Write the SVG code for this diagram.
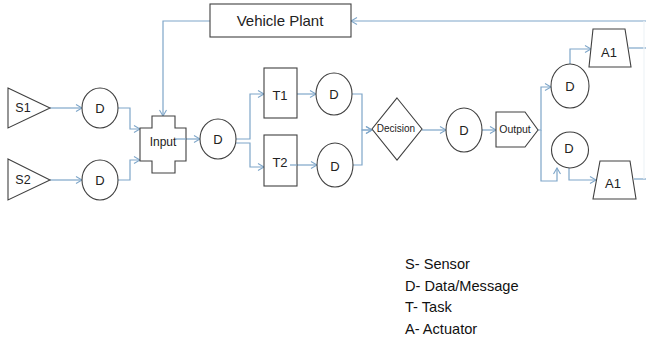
<svg xmlns="http://www.w3.org/2000/svg" width="646" height="342" viewBox="0 0 646 342">
<style>
.s{fill:#fff;stroke:#404040;stroke-width:1.1}
.c{fill:none;stroke:#7ea6c9;stroke-width:1.2}
.t{font-family:"Liberation Sans",Arial,sans-serif;fill:#222;text-anchor:middle;dominant-baseline:central}
.lg{font-family:"Liberation Sans",Arial,sans-serif;fill:#111;font-size:14.6px}
</style>
<defs>
<marker id="a" markerWidth="8" markerHeight="8" refX="7" refY="4" orient="auto" markerUnits="userSpaceOnUse">
<path d="M1,0.5 L7,4 L1,7.5" fill="none" stroke="#7ea6c9" stroke-width="1.1"/>
</marker>
</defs>
<rect width="646" height="342" fill="#fff"/>
<g id="connectors" class="c">
<path d="M50,108 H82" marker-end="url(#a)"/>
<path d="M50,180 H82" marker-end="url(#a)"/>
<path d="M118,108 H130 V129 H140" marker-end="url(#a)"/>
<path d="M118,180 H130 V160 H140" marker-end="url(#a)"/>
<path d="M210,21 H163 V116" marker-end="url(#a)"/>
<path d="M175,139 H200" marker-end="url(#a)"/>
<path d="M236,139 H250 V94 H264" marker-end="url(#a)"/>
<path d="M236,143 H250 V167 H264" marker-end="url(#a)"/>
<path d="M297,94 H316" marker-end="url(#a)"/>
<path d="M290,165 H317" marker-end="url(#a)"/>
<path d="M352,94 H362 V130 H372" marker-end="url(#a)"/>
<path d="M353,165 H362 V130 H372" marker-end="url(#a)"/>
<path d="M422,130 H446" marker-end="url(#a)"/>
<path d="M482,130 H496" marker-end="url(#a)"/>
<path d="M538,130 H541 V87 H551" marker-end="url(#a)"/>
<path d="M541,130 V181 H557 V168" marker-end="url(#a)"/>
<path d="M570,64 V49 H591" marker-end="url(#a)"/>
<path d="M569,168 V180 H596" marker-end="url(#a)"/>
<path d="M629,48 H646"/>
<path d="M634,179 H646"/>
<path d="M646,21 H351" marker-end="url(#a)"/>
<path d="M644,21 V179" stroke="#eef3f7"/>
</g>
<g id="vehicle-plant"><rect class="s" x="210" y="4" width="141" height="33"/><text class="t" x="280" y="20" font-size="15">Vehicle Plant</text></g>
<g id="s1"><path class="s" d="M8,88 L50,108 L8,128 Z"/><text class="t" x="23" y="108" font-size="12.5">S1</text></g>
<g id="s2"><path class="s" d="M8,159 L50,180 L8,200 Z"/><text class="t" x="23" y="180" font-size="12.5">S2</text></g>
<g id="d1"><ellipse class="s" cx="100" cy="108" rx="18" ry="20"/><text class="t" x="100" y="108" font-size="13">D</text></g>
<g id="d2"><ellipse class="s" cx="100" cy="180" rx="18" ry="20"/><text class="t" x="100" y="180" font-size="13">D</text></g>
<g id="input"><path class="s" d="M152,116 H175 V128 H186 V161 H175 V173 H152 V161 H140 V128 H152 Z"/><text class="t" x="163" y="142" font-size="12">Input</text></g>
<path d="M175,139 H186" class="c"/>
<g id="d3"><ellipse class="s" cx="218" cy="139" rx="18" ry="20"/><text class="t" x="218" y="139" font-size="13">D</text></g>
<g id="t1"><rect class="s" x="264" y="68" width="33" height="50"/><text class="t" x="280" y="95" font-size="13">T1</text></g>
<g id="t2"><rect class="s" x="264" y="135" width="33" height="51"/><text class="t" x="280" y="162" font-size="13">T2</text></g>
<path d="M290,165 H297" class="c"/>
<g id="d4"><ellipse class="s" cx="334" cy="94" rx="18" ry="21"/><text class="t" x="334" y="94" font-size="13">D</text></g>
<g id="d5"><ellipse class="s" cx="335" cy="165" rx="18" ry="22"/><text class="t" x="335" y="166" font-size="13">D</text></g>
<g id="decision"><path class="s" d="M397,98 L422,129 L397,160 L372,129 Z"/><text class="t" x="396" y="128" font-size="10">Decision</text></g>
<g id="d6"><ellipse class="s" cx="464" cy="130" rx="18" ry="22"/><text class="t" x="464" y="130" font-size="13">D</text></g>
<g id="output"><path class="s" d="M496,112 H525 L538,130 L525,147 H496 Z"/><text class="t" x="515" y="129" font-size="10.5">Output</text></g>
<g id="d7"><ellipse class="s" cx="570" cy="86" rx="19" ry="22"/><text class="t" x="570" y="86" font-size="13">D</text></g>
<g id="d8"><ellipse class="s" cx="570" cy="150" rx="18.5" ry="18"/><text class="t" x="569" y="148" font-size="13">D</text></g>
<g id="a1-top"><path class="s" d="M593,29 H625 L631,67 H589 Z"/><text class="t" x="609" y="52" font-size="13">A1</text></g>
<g id="a1-bottom"><path class="s" d="M600,161 H630 L636,199 H593 Z"/><text class="t" x="613" y="183" font-size="13">A1</text></g>
<g id="legend">
<text class="lg" x="405" y="269">S- Sensor</text>
<text class="lg" x="405" y="291">D- Data/Message</text>
<text class="lg" x="405" y="312">T- Task</text>
<text class="lg" x="405" y="334">A- Actuator</text>
</g>
</svg>
